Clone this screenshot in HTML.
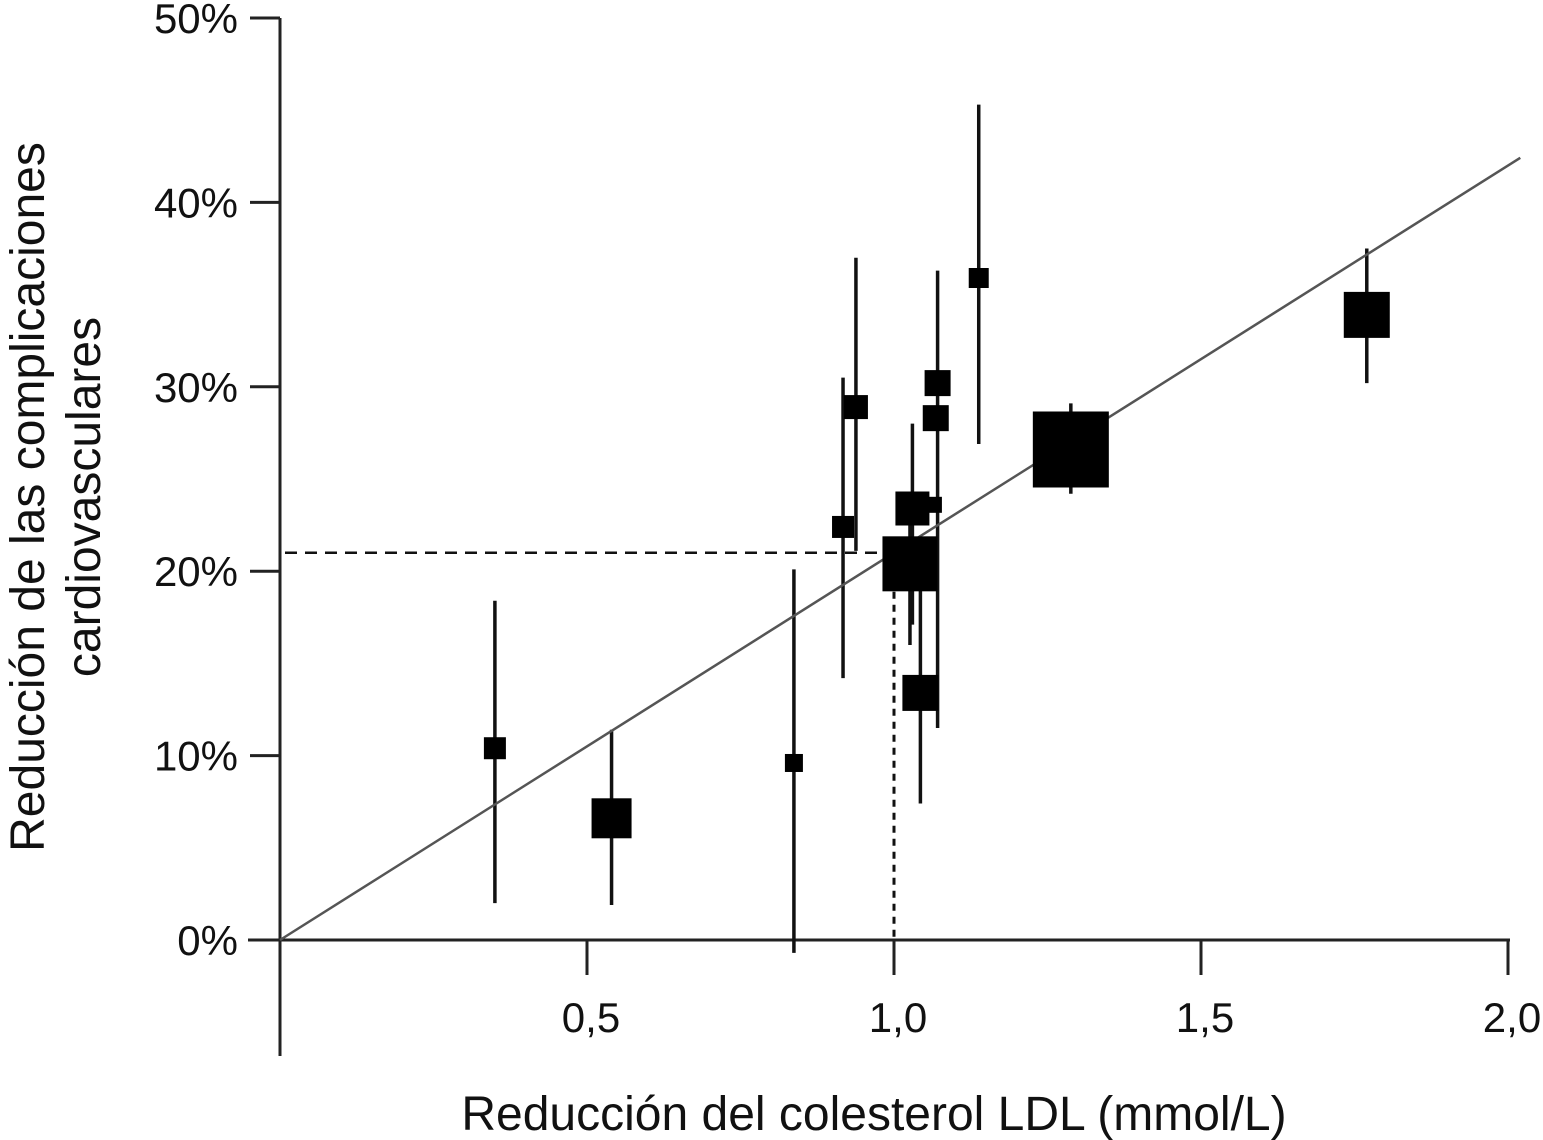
<!DOCTYPE html>
<html><head><meta charset="utf-8"><style>
html,body{margin:0;padding:0;background:#fff;}
svg{display:block;font-family:"Liberation Sans",sans-serif;}
</style></head><body>
<svg id="chart" width="1543" height="1140" viewBox="0 0 1543 1140" xmlns="http://www.w3.org/2000/svg"></svg>
<script>
const xTicks=[0.5,1.0,1.5,2.0];
const xTickLabels=["0,5","1,0","1,5","2,0"];
const yTicks=[0,10,20,30,40,50];
const yTickLabels=["0%","10%","20%","30%","40%","50%"];
const ptX=[0.35,0.54,0.837,0.917,0.938,1.03,1.026,1.065,1.071,1.068,1.043,1.138,1.288,1.77];
const ptY=[10.4,6.6,9.6,22.4,28.9,23.4,20.4,23.6,30.2,28.3,13.4,35.9,26.6,33.9];
const errLo=[2.0,1.9,-0.7,14.2,21.1,17.1,16.0,23.6,11.5,28.3,7.4,26.9,24.2,30.2];
const errHi=[18.4,11.4,20.1,30.5,37.0,28.0,22.5,23.6,36.3,28.3,20.0,45.3,29.1,37.5];
const ptSize=[22,40,18,22,24,34,55,16,26,26,36,20,76,46];
const fitSlope=[21.0];
const refX=[1.0], refY=[21.0];

const X=v=>280+v*614;
const Y=v=>940-v*18.44;
const svg=document.getElementById('chart');
const NS='http://www.w3.org/2000/svg';
function mk(tag,attrs,txt){const e=document.createElementNS(NS,tag);for(const k in attrs)e.setAttribute(k,attrs[k]);if(txt!==undefined)e.textContent=txt;svg.appendChild(e);return e;}

let e;
e=mk('line',{x1:280,y1:18,x2:280,y2:1056,stroke:'#222','stroke-width':3});


e=mk('line',{x1:248,y1:940,x2:1510,y2:940,stroke:'#222','stroke-width':3});



yTicks.forEach((t,i)=>{
 e=mk('line',{x1:250,y1:Y(t),x2:280,y2:Y(t),stroke:'#222','stroke-width':3});
 
 
 e=mk('text',{x:238,y:Y(t)+15,'text-anchor':'end','font-size':42,fill:'#111'},yTickLabels[i]);
 
 
});
xTicks.forEach((t,i)=>{
 e=mk('line',{x1:X(t),y1:940,x2:X(t),y2:975,stroke:'#222','stroke-width':3});
 
 
 e=mk('text',{x:X(t)+4,y:1032,'text-anchor':'middle','font-size':42,fill:'#111'},xTickLabels[i]);
 
 
});

e=mk('line',{x1:285,y1:Y(refY[0]),x2:X(refX[0]),y2:Y(refY[0]),stroke:'#111','stroke-width':2.5,'stroke-dasharray':'12,8'});


e=mk('line',{x1:X(refX[0]),y1:Y(refY[0]),x2:X(refX[0]),y2:940,stroke:'#111','stroke-width':3,'stroke-dasharray':'7,6'});



ptX.forEach((x,i)=>{
 e=mk('line',{x1:X(x),y1:Y(errHi[i]),x2:X(x),y2:Y(errLo[i]),stroke:'#111','stroke-width':3.5});
 
 
});
const xEnd=2.02;
e=mk('line',{x1:X(0),y1:Y(0),x2:X(xEnd),y2:Y(fitSlope[0]*xEnd),stroke:'#555','stroke-width':2.5});


ptX.forEach((x,i)=>{
 const s=ptSize[i];
 e=mk('rect',{x:X(x)-s/2,y:Y(ptY[i])-s/2,width:s,height:s,fill:'#000'});
 
 
});

e=mk('text',{x:874,y:1130,'text-anchor':'middle','font-size':48,fill:'#111'},'Reducción del colesterol LDL (mmol/L)');


e=mk('text',{x:0,y:0,'text-anchor':'middle','font-size':48,fill:'#111',transform:'translate(44,497) rotate(-90)'},'Reducción de las complicaciones');


e=mk('text',{x:0,y:0,'text-anchor':'middle','font-size':48,fill:'#111',transform:'translate(100,497) rotate(-90)'},'cardiovasculares');


</script>
</body></html>
